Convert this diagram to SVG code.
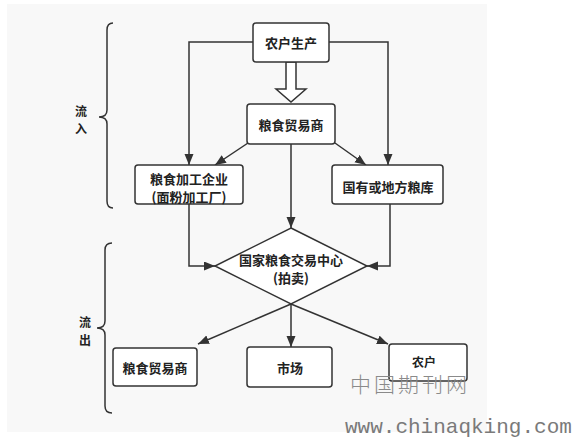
<svg xmlns="http://www.w3.org/2000/svg" width="576" height="440" viewBox="0 0 576 440">
<defs>
<style>
.box{fill:#fff;stroke:#333;stroke-width:1.5}
.t{font-family:"Noto Sans CJK SC","Liberation Sans",sans-serif;font-size:13px;font-weight:bold;fill:#222;text-anchor:middle;dominant-baseline:central}
.s{font-size:12px}
.ln{fill:none;stroke:#333;stroke-width:1.5}
</style>
<marker id="ah" markerUnits="userSpaceOnUse" markerWidth="12" markerHeight="10" refX="11" refY="4.5" orient="auto">
<path d="M0,0 L11,4.5 L0,9 z" fill="#333"/>
</marker>
</defs>
<rect x="0" y="0" width="576" height="440" fill="#fff"/>
<rect x="7" y="4" width="480" height="428" fill="#f8f8f8"/>
<g id="braces">
<path class="ln" d="M113,23 Q107,23 107,30 L107,110 Q107,117 99,117 Q107,117 107,124 L107,201 Q107,208 113,208"/>
<path class="ln" d="M112,243 Q105,243 105,250 L105,321 Q105,328 97,328 Q105,328 105,335 L105,406 Q105,413 112,413"/>
<text class="t s" x="81" y="110">流</text>
<text class="t s" x="81" y="128">入</text>
<text class="t s" x="85" y="321">流</text>
<text class="t s" x="85" y="339">出</text>
</g>
<g id="connectors">
<path class="ln" d="M253,42 H189 V165" marker-end="url(#ah)"/>
<path class="ln" d="M329,42 H388 V165" marker-end="url(#ah)"/>
<polygon points="286,62 296,62 296,89 306,89 291,102 276,89 286,89" fill="#fff" stroke="#333" stroke-width="1.5"/>
<path class="ln" d="M291,144 V228" marker-end="url(#ah)"/>
<path class="ln" d="M248,143 L215,165" marker-end="url(#ah)"/>
<path class="ln" d="M335,143 L366,165" marker-end="url(#ah)"/>
<path class="ln" d="M189,204 V266 H215" marker-end="url(#ah)"/>
<path class="ln" d="M390,204 V266 H367" marker-end="url(#ah)"/>
<path class="ln" d="M291,304 L198,344" marker-end="url(#ah)"/>
<path class="ln" d="M291,304 V347" marker-end="url(#ah)"/>
<path class="ln" d="M291,304 L388,344" marker-end="url(#ah)"/>
</g>
<g id="n-nonghu-shengchan">
<rect class="box" x="253" y="23" width="76" height="39" rx="3"/>
<text class="t" x="291" y="42">农户生产</text>
</g>
<g id="n-maoyishang-top">
<rect class="box" x="247" y="104" width="88" height="40" rx="3"/>
<text class="t" x="291" y="124">粮食贸易商</text>
</g>
<g id="n-jiagong">
<rect class="box" x="135" y="165" width="108" height="39" rx="3"/>
<text class="t" x="189" y="178">粮食加工企业</text>
<text class="t" x="189" y="196">(面粉加工厂)</text>
</g>
<g id="n-guoyou">
<rect class="box" x="332" y="165" width="111" height="39" rx="3"/>
<text class="t" x="388" y="186">国有或地方粮库</text>
</g>
<g id="n-center">
<polygon points="291,228 367,266 291,304 215,266" fill="#fff" stroke="#333" stroke-width="1.5"/>
<text class="t" x="291" y="259">国家粮食交易中心</text>
<text class="t" x="291" y="277">(拍卖)</text>
</g>
<g id="n-maoyishang-bottom">
<rect class="box" x="113" y="348" width="84" height="38" rx="3"/>
<text class="t" x="155" y="367">粮食贸易商</text>
</g>
<g id="n-shichang">
<rect class="box" x="247" y="347" width="85" height="40" rx="3"/>
<text class="t" x="290" y="367">市场</text>
</g>
<g id="n-nonghu">
<rect class="box" x="389" y="344" width="78" height="37" rx="3"/>
<text class="t s" x="424" y="361">农户</text>
</g>
<g id="watermark">
<text x="350" y="392" font-family="Noto Sans CJK SC,sans-serif" font-size="21" font-weight="300" fill="#8a8a8a" letter-spacing="3">中国期刊网</text>
<text x="345" y="433" font-family="Liberation Mono,monospace" font-size="21" fill="#7a7a7a">www.chinaqking.com</text>
</g>
</svg>
